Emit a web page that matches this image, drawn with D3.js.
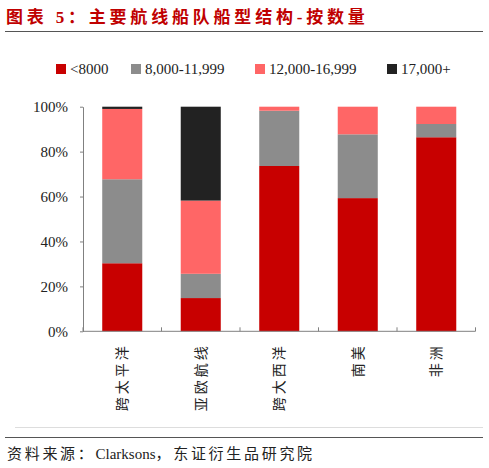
<!DOCTYPE html>
<html>
<head>
<meta charset="utf-8">
<script src="https://cdn.jsdelivr.net/npm/d3@7"></script>
<style>
  body { margin: 0; background: #fff; }
  svg { display: block; }
</style>
</head>
<body>
<div id="chart"></div>
<script>
// Route categories and fleet share (%) by ship size
const routes = ["跨太平洋", "亚欧航线", "跨大西洋", "南美", "非洲"];
const seriesNames = ["<8000", "8,000-11,999", "12,000-16,999", "17,000+"];
const under8000 = [30.3, 14.8, 73.6, 59.3, 86.4];
const s8000to11999 = [37.4, 10.8, 24.6, 28.4, 5.9];
const s12000to16999 = [31.3, 32.6, 1.8, 12.3, 7.7];
const over17000 = [1.0, 41.8, 0, 0, 0];
const yTicks = [0, 20, 40, 60, 80, 100];

const colors = ["#c80000", "#8c8c8c", "#ff6666", "#222222"];

function drawChart() {
    const width = 489, height = 468;
    const svg = d3.select("#chart").append("svg")
        .attr("width", width)
        .attr("height", height);

    const cjk = "'Noto Sans CJK SC', sans-serif";
    const serif = "'Liberation Serif', 'DejaVu Serif', serif";
    const mixed = "'Liberation Serif', 'Noto Sans CJK SC', serif";

    // Title and rules
    svg.append("text")
        .attr("x", 6).attr("y", 23)
        .attr("font-family", mixed)
        .attr("font-size", 17)
        .attr("font-weight", "bold")
        .attr("letter-spacing", 3.8)
        .attr("fill", "#c00000")
        .text("图表 5：主要航线船队船型结构-按数量");

    svg.append("line")
        .attr("x1", 5).attr("x2", 483)
        .attr("y1", 31.5).attr("y2", 31.5)
        .attr("stroke", "#555").attr("stroke-width", 1.2);

    // faint frame of the chart area
    svg.append("line")
        .attr("x1", 15).attr("x2", 483)
        .attr("y1", 427.5).attr("y2", 427.5)
        .attr("stroke", "#ddd");

    svg.append("line")
        .attr("x1", 5).attr("x2", 483)
        .attr("y1", 437.5).attr("y2", 437.5)
        .attr("stroke", "#555").attr("stroke-width", 1.2);

    // Source line: spaced CJK, plain Latin
    const source = svg.append("text")
        .attr("x", 7).attr("y", 459)
        .attr("font-family", mixed)
        .attr("font-size", 15)
        .attr("fill", "#222");
    [["资料来源：", 2.7], ["Clarksons", 0], ["，东证衍生品研究院", 2.7]].forEach(([t, ls]) => {
        source.append("tspan").attr("letter-spacing", ls).text(t);
    });

    // Legend
    const legendX = [56, 131, 255, 387];
    const legend = svg.append("g");
    seriesNames.forEach((name, i) => {
        legend.append("rect")
            .attr("x", legendX[i]).attr("y", 64)
            .attr("width", 10).attr("height", 10)
            .attr("fill", colors[i]);
        legend.append("text")
            .attr("x", legendX[i] + 14).attr("y", 74)
            .attr("font-family", serif)
            .attr("font-size", 15)
            .attr("fill", "#222")
            .text(name);
    });

    // Plot
    const margin = { left: 83, top: 106.7, right: 475.5, bottom: 331.3 };

    const xScale = d3.scaleBand()
        .domain(routes)
        .range([margin.left, margin.right])
        .paddingInner(0.49)
        .paddingOuter(0.245);

    const yScale = d3.scaleLinear()
        .domain([0, 100])
        .range([margin.bottom, margin.top]);

    const table = routes.map((r, i) => ({
        route: r,
        s0: under8000[i],
        s1: s8000to11999[i],
        s2: s12000to16999[i],
        s3: over17000[i]
    }));

    const stack = d3.stack().keys(["s0", "s1", "s2", "s3"]);
    const layers = stack(table);

    svg.append("g")
        .selectAll("g")
        .data(layers)
        .enter()
        .append("g")
        .attr("fill", (d, i) => colors[i])
        .selectAll("rect")
        .data(d => d)
        .enter()
        .append("rect")
        .attr("x", d => xScale(d.data.route))
        .attr("width", xScale.bandwidth())
        .attr("y", d => yScale(d[1]))
        .attr("height", d => yScale(d[0]) - yScale(d[1]));

    // Y axis
    const yAxis = svg.append("g")
        .attr("transform", `translate(${margin.left},0)`)
        .call(d3.axisLeft(yScale)
            .tickValues(yTicks)
            .tickSize(3)
            .tickSizeOuter(0)
            .tickPadding(12)
            .tickFormat(d => d + "%"));
    yAxis.selectAll("line, path").attr("stroke", "#808080");
    yAxis.selectAll("text")
        .attr("font-family", serif)
        .attr("font-size", 15)
        .attr("fill", "#222");

    // X axis: ticks between categories
    const xAxis = svg.append("g")
        .attr("transform", `translate(0,${margin.bottom})`);
    xAxis.append("line")
        .attr("x1", margin.left).attr("x2", margin.right)
        .attr("stroke", "#808080");
    const step = xScale.step();
    d3.range(routes.length + 1).forEach(i => {
        const x = margin.left + i * step;
        xAxis.append("line")
            .attr("x1", x).attr("x2", x)
            .attr("y1", 0).attr("y2", -4)
            .attr("stroke", "#808080");
    });

    xAxis.selectAll(".cat")
        .data(routes)
        .enter()
        .append("text")
        .attr("class", "cat")
        .attr("transform", d => `translate(${xScale(d) + xScale.bandwidth() / 2 + 5},12) rotate(-90)`)
        .attr("text-anchor", "end")
        .attr("font-family", cjk)
        .attr("font-size", 14)
        .attr("letter-spacing", 3)
        .attr("fill", "#222")
        .text(d => d);
}

document.addEventListener("DOMContentLoaded", drawChart);
</script>
</body>
</html>
